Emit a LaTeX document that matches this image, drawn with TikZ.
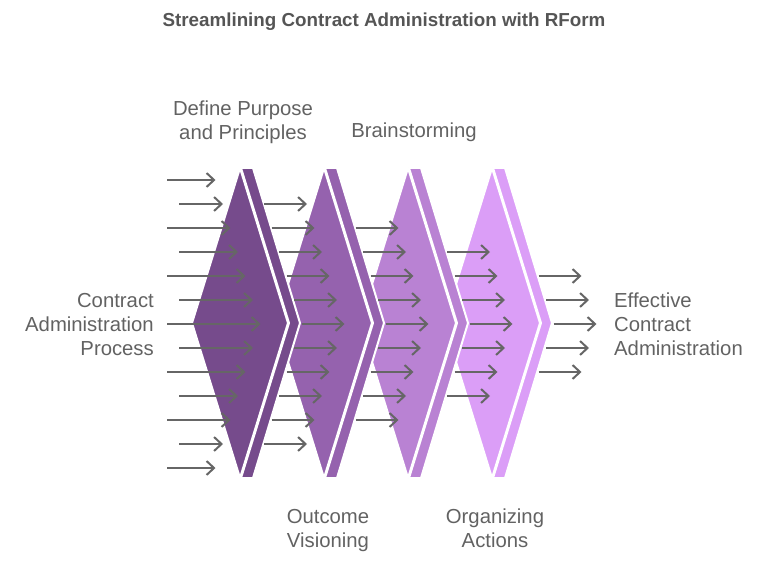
\documentclass[tikz,border=0pt]{standalone}
\usepackage{fontspec}
\setmainfont{Liberation Sans}
\usetikzlibrary{arrows.meta}
\definecolor{txt}{HTML}{626262}
\definecolor{ttl}{HTML}{555555}
\definecolor{arr}{HTML}{666666}
\definecolor{s1}{HTML}{764B8C}
\definecolor{s2}{HTML}{9562AE}
\definecolor{s3}{HTML}{B982D3}
\definecolor{s4}{HTML}{DB9EF7}
\begin{document}
\begin{tikzpicture}[x=1pt,y=-1pt,
  flow/.style={draw=arr, line width=2pt, -{Straight Barb[length=7.5pt,width=14pt]}},
  lbl/.style={text=txt, font=\fontsize{20.3}{24}\selectfont, inner sep=0pt},
  stagefill/.style={draw=white, line width=2pt, line join=round}]
\useasboundingbox (0,0) rectangle (768,564);
% stages, drawn right to left
\foreach \cx/\col in {492/s4,408/s3,324/s2,240/s1}{
  \path[stagefill, fill=\col] (\cx+1,168) -- (\cx+13,168) -- (\cx+60,323) -- (\cx+13,478) -- (\cx+1,478) -- (\cx+49,323) -- cycle;
  \path[stagefill, fill=\col] (\cx,168) -- (\cx+48,323) -- (\cx,478) -- (\cx-48,323) -- cycle;
}
% arrows
\foreach \r in {1,...,13}{
  \pgfmathtruncatemacro{\m}{min(\r,14-\r)}
  \pgfmathsetmacro{\yy}{180+24*(\r-1)}
  \foreach \k in {1,...,5}{
    \ifnum\m<\k\relax\else
      \pgfmathsetmacro{\tip}{215.5+84*(\k-1)+7.5*(\m-1)}
      \ifnum\k=1
        \pgfmathsetmacro{\st}{mod(\r,2)==1 ? 167 : 179}
      \else
        \pgfmathsetmacro{\st}{\tip-43}
      \fi
      \coordinate (s\k-\r) at (\st,\yy);
      \coordinate (e\k-\r) at (\tip,\yy);
      \draw[flow] (s\k-\r) -- (e\k-\r);
    \fi
  }
}
% labels
\node[text=ttl, font=\fontsize{18.8}{22}\selectfont\bfseries, inner sep=0pt] (title) at (384,22) {Streamlining Contract Administration with RForm};
\node[lbl, align=center] (define) at (243,122) {Define Purpose\\and Principles};
\node[lbl, align=center] (brain) at (414,132) {Brainstorming};
\node[lbl, align=center] (outcome) at (328,531) {Outcome\\Visioning};
\node[lbl, align=center] (organ) at (495,528) {Organizing\\Actions};
\node[lbl, align=right, anchor=east] (input) at (154,325) {Contract\\Administration\\Process};
\node[lbl, align=left, anchor=west] (output) at (614,324) {Effective\\Contract\\Administration};
\end{tikzpicture}
\end{document}
